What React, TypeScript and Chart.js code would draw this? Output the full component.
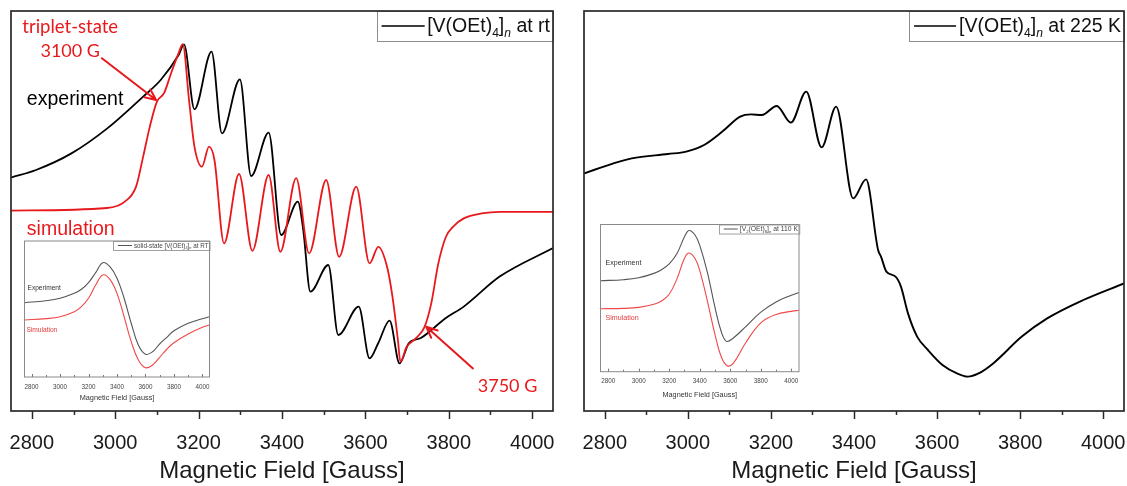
import React, { useEffect, useRef } from 'react';
import { Chart, registerables } from 'chart.js';

Chart.register(...registerables);

// ---------------- data ----------------
const fieldTicks = [2800, 3000, 3200, 3400, 3600, 3800, 4000];
const fieldMinorTicks = [2900, 3100, 3300, 3500, 3700, 3900];
const fieldMin = 2750;
const fieldMax = 4050;

// Left panel: [V(OEt)4]n at rt, experiment
const rtExpField = [2750, 2810, 2895, 2981, 3067, 3109, 3152, 3165, 3190, 3231, 3256, 3299, 3326, 3368, 3398, 3438, 3451, 3468, 3511, 3535, 3584, 3610, 3631, 3658, 3682, 3704, 3733, 3793, 3836, 3922, 4050];
const rtExpSignal = [16.7, 20.5, 28.8, 41.3, 57.2, 65.5, 78, 83.3, 50.8, 79.7, 38.8, 65.8, 17.5, 39.2, -12, 4.7, -9.5, -40.3, -27, -62, -47.8, -73.7, -66, -54.8, -76.2, -66.2, -63.5, -53.5, -47.8, -32.8, -18.5];

// Left panel: simulation (triplet state)
const rtSimField = [2750, 2980, 3023, 3050, 3067, 3083, 3100, 3117, 3134, 3152, 3162, 3177, 3190, 3208, 3225, 3238, 3261, 3297, 3329, 3368, 3396, 3434, 3465, 3506, 3537, 3578, 3610, 3631, 3652, 3665, 3678, 3684, 3699, 3721, 3742, 3758, 3775, 3793, 3810, 3836, 3879, 3922, 4050];
const rtSimSignal = [0.2, 1.5, 4.7, 12.2, 27.2, 42.2, 54.7, 58.9, 68.9, 78.9, 83.4, 55.5, 32.2, 22.2, 32.2, 25.5, -16.2, 18.5, -19.9, 18, -20.4, 16.4, -21.2, 15.5, -22.9, 12.2, -26.2, -17.9, -27.9, -42.9, -64.5, -75.4, -67.9, -63.7, -57.9, -46.2, -26.2, -13, -7.9, -3.7, -1.2, -0.4, -0.4];

// Right panel: [V(OEt)4]n at 225 K
const k225Field = [2750, 2821, 2865, 2952, 2996, 3039, 3083, 3126, 3152, 3178, 3214, 3248, 3285, 3322, 3357, 3398, 3429, 3458, 3465, 3478, 3500, 3513, 3530, 3552, 3578, 3613, 3648, 3674, 3700, 3735, 3804, 3865, 3952, 4050];
const k225Signal = [18.8, 23.8, 26.3, 28.5, 29.7, 33, 39.7, 47.2, 48.3, 48, 52.5, 44.2, 59.7, 31.8, 52.2, 6.3, 15.8, -19.5, -22.8, -30.3, -32.8, -37.8, -51.2, -62.8, -69.5, -77, -81.2, -82.8, -81.2, -76.2, -62.8, -53.7, -44.5, -36.2];

// Left inset: solid-state [V(OEt)4]n at RT
const insetRtExpField = [2750, 2900, 3000, 3100, 3150, 3200, 3250, 3300, 3350, 3400, 3450, 3500, 3550, 3600, 3650, 3700, 3750, 3800, 3900, 4000, 4050];
const insetRtExpSignal = [54.6, 56.1, 57.9, 61.5, 64.5, 69.4, 76.7, 84, 81.1, 72.6, 57.9, 39.5, 23.5, 16.7, 18.6, 24.3, 29.2, 34, 39.5, 42.9, 44.3];
const insetRtSimField = [2750, 2900, 3000, 3100, 3150, 3200, 3250, 3300, 3350, 3400, 3450, 3500, 3550, 3600, 3650, 3700, 3750, 3800, 3900, 4000, 4050];
const insetRtSimSignal = [41.9, 42.9, 44.3, 48, 51.7, 57.9, 67.6, 75, 71.8, 61.5, 44.3, 26, 12.5, 6.8, 8.8, 14.5, 20.4, 25.2, 31.6, 36.5, 38.2];

// Right inset: 110 K
const inset110ExpField = [2750, 2900, 3000, 3100, 3150, 3200, 3250, 3300, 3330, 3370, 3400, 3450, 3500, 3540, 3575, 3620, 3700, 3800, 3900, 4000, 4050];
const inset110ExpSignal = [61.8, 62.5, 63.8, 66.8, 69.3, 73.2, 80.1, 91.6, 95.9, 92.7, 85.8, 67.5, 43.5, 27.5, 20.6, 22.9, 30.5, 40.5, 47.4, 52, 53.8];
const inset110SimField = [2750, 2900, 3000, 3100, 3150, 3200, 3250, 3300, 3330, 3370, 3400, 3450, 3500, 3540, 3580, 3620, 3700, 3800, 3900, 4000, 4050];
const inset110SimSignal = [42.8, 43, 43.7, 45.8, 48, 52.6, 62.9, 77.1, 80.6, 76.7, 68.6, 48, 25.2, 10.3, 4.1, 5.8, 19.5, 33.2, 38.9, 41, 41.7];

// ---------------- styling helpers ----------------
const FONT = '"Liberation Sans", Arial, Helvetica, sans-serif';
const HUMANIST = 'Lato, "Liberation Sans", sans-serif';
const RED = '#e8191c';

type Part = { t: string; sub?: boolean; it?: boolean };

function partFont(p: Part, size: number, family: string) {
  const s = p.sub ? size * 0.62 : size;
  return `${p.it ? 'italic ' : ''}${s}px ${family}`;
}
function richWidth(ctx: CanvasRenderingContext2D, parts: Part[], size: number, family: string) {
  let w = 0;
  for (const p of parts) {
    ctx.font = partFont(p, size, family);
    w += ctx.measureText(p.t).width;
  }
  return w;
}
function drawRich(ctx: CanvasRenderingContext2D, parts: Part[], x: number, baseline: number, size: number, family: string, color: string) {
  ctx.save();
  ctx.fillStyle = color;
  ctx.textAlign = 'left';
  ctx.textBaseline = 'alphabetic';
  let cx = x;
  for (const p of parts) {
    ctx.font = partFont(p, size, family);
    ctx.fillText(p.t, cx, p.sub ? baseline + size * 0.22 : baseline);
    cx += ctx.measureText(p.t).width;
  }
  ctx.restore();
}

type Label = { text: string; x: number; y: number; color: string; size: number; family: string; align: CanvasTextAlign };
type Arrow = { x0: number; y0: number; x1: number; y1: number; color: string; width: number; head: number };
type Legend = { parts: Part[]; size: number; family: string; lineLen: number; h: number; gap: number; padL: number; padR: number; border: string; lineColor: string; lineWidth: number; textColor: string };
type Decor = {
  frameColor: string; frameWidth: number;
  majorLen: number; minorLen: number; inward: boolean; tickColor: string; tickWidth: number;
  legend: Legend; labels: Label[]; arrows: Arrow[]; background?: string;
};

function makeDecor(d: Decor) {
  return {
    id: 'decor',
    beforeDatasetsDraw(chart: any) {
      if (!d.background) return;
      const a = chart.chartArea;
      const ctx = chart.ctx;
      ctx.save();
      ctx.fillStyle = d.background;
      ctx.fillRect(a.left, a.top, a.right - a.left, a.bottom - a.top);
      ctx.restore();
    },
    afterDatasetsDraw(chart: any) {
      const ctx: CanvasRenderingContext2D = chart.ctx;
      const a = chart.chartArea;
      const xs = chart.scales.x;
      const ys = chart.scales.y;
      ctx.save();
      // ticks
      ctx.strokeStyle = d.tickColor;
      ctx.lineWidth = d.tickWidth;
      const drawTick = (v: number, len: number) => {
        const px = Math.round(xs.getPixelForValue(v)) + 0.5;
        ctx.beginPath();
        ctx.moveTo(px, a.bottom);
        ctx.lineTo(px, d.inward ? a.bottom - len : a.bottom + len);
        ctx.stroke();
      };
      fieldTicks.forEach((v) => drawTick(v, d.majorLen));
      fieldMinorTicks.forEach((v) => drawTick(v, d.minorLen));
      // labels
      for (const l of d.labels) {
        ctx.font = `${l.size}px ${l.family}`;
        ctx.fillStyle = l.color;
        ctx.textAlign = l.align;
        ctx.textBaseline = 'middle';
        ctx.fillText(l.text, xs.getPixelForValue(l.x), ys.getPixelForValue(l.y));
      }
      // arrows
      for (const ar of d.arrows) {
        const x0 = xs.getPixelForValue(ar.x0), y0 = ys.getPixelForValue(ar.y0);
        const x1 = xs.getPixelForValue(ar.x1), y1 = ys.getPixelForValue(ar.y1);
        ctx.strokeStyle = ar.color;
        ctx.lineWidth = ar.width;
        ctx.lineCap = 'round';
        ctx.beginPath();
        ctx.moveTo(x0, y0);
        ctx.lineTo(x1, y1);
        const ang = Math.atan2(y1 - y0, x1 - x0);
        for (const s of [-1, 1]) {
          ctx.moveTo(x1, y1);
          ctx.lineTo(x1 - ar.head * Math.cos(ang + s * 0.42), y1 - ar.head * Math.sin(ang + s * 0.42));
        }
        ctx.stroke();
      }
      // legend
      const lg = d.legend;
      const tw = richWidth(ctx, lg.parts, lg.size, lg.family);
      const bw = lg.padL + lg.lineLen + lg.gap + tw + lg.padR;
      const bx = a.right - bw;
      const by = a.top;
      ctx.fillStyle = '#ffffff';
      ctx.fillRect(bx, by, bw, lg.h);
      ctx.strokeStyle = lg.border;
      ctx.lineWidth = 1;
      ctx.strokeRect(Math.round(bx) + 0.5, by + 0.5, bw, lg.h);
      const my = by + lg.h / 2;
      ctx.strokeStyle = lg.lineColor;
      ctx.lineWidth = lg.lineWidth;
      ctx.beginPath();
      ctx.moveTo(bx + lg.padL, my);
      ctx.lineTo(bx + lg.padL + lg.lineLen, my);
      ctx.stroke();
      drawRich(ctx, lg.parts, bx + lg.padL + lg.lineLen + lg.gap, my + lg.size * 0.33, lg.size, lg.family, lg.textColor);
      // frame
      ctx.strokeStyle = d.frameColor;
      ctx.lineWidth = d.frameWidth;
      ctx.strokeRect(a.left, a.top, a.right - a.left, a.bottom - a.top);
      ctx.restore();
    },
  };
}

function pts(xs: number[], ys: number[]) {
  return xs.map((x, i) => ({ x, y: ys[i] }));
}
function lineDs(data: { x: number; y: number }[], color: string, width: number, smooth = false) {
  return smooth
    ? { data, borderColor: color, borderWidth: width, pointRadius: 0, fill: false, tension: 0.4 }
    : { data, borderColor: color, borderWidth: width, pointRadius: 0, fill: false, cubicInterpolationMode: 'monotone' as const };
}

type PanelOpts = {
  datasets: any[]; pad: { left: number; top: number; right: number }; axisH: number; yMin: number; yMax: number;
  tickSize: number; tickPad: number; tickColor: string; titleSize: number; titlePadBottom: number; titleColor: string; decor: Decor;
};

function panelConfig(o: PanelOpts): any {
  return {
    type: 'line',
    data: { datasets: o.datasets },
    options: {
      animation: false,
      responsive: false,
      maintainAspectRatio: false,
      events: [],
      layout: { padding: { left: o.pad.left, top: o.pad.top, right: o.pad.right, bottom: 0 } },
      plugins: { legend: { display: false }, tooltip: { enabled: false } },
      scales: {
        x: {
          type: 'linear',
          min: fieldMin,
          max: fieldMax,
          afterBuildTicks: (s: any) => { s.ticks = fieldTicks.map((v) => ({ value: v })); },
          afterFit: (s: any) => { s.height = o.axisH; s.paddingLeft = 0; s.paddingRight = 0; },
          grid: { display: false, drawTicks: false },
          border: { display: false },
          ticks: {
            color: o.tickColor,
            font: { family: FONT, size: o.tickSize },
            padding: o.tickPad,
            maxRotation: 0,
            autoSkip: false,
            callback: (v: any) => String(v),
          },
          title: {
            display: true,
            text: 'Magnetic Field [Gauss]',
            color: o.titleColor,
            font: { family: FONT, size: o.titleSize },
            padding: { top: 0, bottom: o.titlePadBottom },
          },
        },
        y: { display: false, min: o.yMin, max: o.yMax },
      },
    },
    plugins: [makeDecor(o.decor)],
  };
}

const mainLegendBase = { size: 19.5, family: FONT, lineLen: 42, h: 30, gap: 3, padL: 5, padR: 3, border: '#8c8c8c', lineColor: '#000', lineWidth: 1.6, textColor: '#111' };
const insetLegendBase = { size: 6.3, family: FONT, lineLen: 14, h: 9, gap: 2, padL: 5, padR: 1, border: '#a0a0a0', lineColor: '#555', lineWidth: 1, textColor: '#444' };

export default function App() {
  const leftRef = useRef<HTMLCanvasElement>(null);
  const rightRef = useRef<HTMLCanvasElement>(null);
  const inLRef = useRef<HTMLCanvasElement>(null);
  const inRRef = useRef<HTMLCanvasElement>(null);

  useEffect(() => {
    const charts: Chart[] = [];
    const mainCommon = {
      axisH: 75, yMin: -100, yMax: 100, tickSize: 20, tickPad: 20, tickColor: '#1a1a1a',
      titleSize: 24, titlePadBottom: 0, titleColor: '#1a1a1a',
    };
    const mainDecor = { frameColor: '#2a2a2a', frameWidth: 1.7, majorLen: 8, minorLen: 4, inward: false, tickColor: '#2a2a2a', tickWidth: 1.5 };

    charts.push(new Chart(leftRef.current!, panelConfig({
      ...mainCommon,
      datasets: [lineDs(pts(rtSimField, rtSimSignal), RED, 1.8), lineDs(pts(rtExpField, rtExpSignal), '#000', 1.8)],
      pad: { left: 11, top: 11, right: 15 },
      decor: {
        ...mainDecor,
        legend: { ...mainLegendBase, parts: [{ t: '[V(OEt)' }, { t: '4', sub: true }, { t: ']' }, { t: 'n', sub: true, it: true }, { t: ' at rt' }] },
        labels: [
          { text: 'triplet-state', x: 2892, y: 92.2, color: RED, size: 18.5, family: HUMANIST, align: 'center' },
          { text: '3100 G', x: 2892, y: 79.7, color: RED, size: 18, family: HUMANIST, align: 'center' },
          { text: 'experiment', x: 2788, y: 55.5, color: '#000', size: 19.5, family: FONT, align: 'left' },
          { text: 'simulation', x: 2788, y: -9.2, color: RED, size: 19.5, family: FONT, align: 'left' },
          { text: '3750 G', x: 3941, y: -87.5, color: RED, size: 18, family: HUMANIST, align: 'center' },
        ],
        arrows: [
          { x0: 2968, y0: 76.4, x1: 3098, y1: 55.5, color: RED, width: 2, head: 12 },
          { x0: 3858, y0: -78.7, x1: 3746, y1: -57.9, color: RED, width: 2, head: 12 },
        ],
      },
    })));

    charts.push(new Chart(rightRef.current!, panelConfig({
      ...mainCommon,
      datasets: [lineDs(pts(k225Field, k225Signal), '#000', 1.9)],
      pad: { left: 16, top: 11, right: 3 },
      decor: {
        ...mainDecor,
        legend: { ...mainLegendBase, parts: [{ t: '[V(OEt)' }, { t: '4', sub: true }, { t: ']' }, { t: 'n', sub: true, it: true }, { t: ' at 225 K' }] },
        labels: [],
        arrows: [],
      },
    })));

    const insetCommon = {
      yMin: 0, yMax: 100, tickSize: 6.3, tickPad: 6, tickColor: '#444',
      titleSize: 7.3, titlePadBottom: 2.5, titleColor: '#333',
    };
    const insetDecor = { frameColor: '#8a8a8a', frameWidth: 1, majorLen: 3, minorLen: 2, inward: true, tickColor: '#777', tickWidth: 1, background: '#ffffff' };

    charts.push(new Chart(inLRef.current!, panelConfig({
      ...insetCommon,
      axisH: 28,
      datasets: [lineDs(pts(insetRtSimField, insetRtSimSignal), '#f04848', 1.1, true), lineDs(pts(insetRtExpField, insetRtExpSignal), '#555', 1.1, true)],
      pad: { left: 10.5, top: 6, right: 4.5 },
      decor: {
        ...insetDecor,
        legend: { ...insetLegendBase, parts: [{ t: 'solid-state [V(OEt)' }, { t: '4', sub: true }, { t: ']' }, { t: 'n', sub: true, it: true }, { t: ' at RT' }] },
        labels: [
          { text: 'Experiment', x: 2771, y: 65.4, color: '#333', size: 6.6, family: FONT, align: 'left' },
          { text: 'Simulation', x: 2764, y: 34.6, color: '#e23a3a', size: 6.6, family: FONT, align: 'left' },
        ],
        arrows: [],
      },
    })));

    charts.push(new Chart(inRRef.current!, panelConfig({
      ...insetCommon,
      axisH: 30.3,
      datasets: [lineDs(pts(inset110SimField, inset110SimSignal), '#f04848', 1.1, true), lineDs(pts(inset110ExpField, inset110ExpSignal), '#555', 1.1, true)],
      pad: { left: 10.5, top: 6.5, right: 6 },
      decor: {
        ...insetDecor,
        legend: { ...insetLegendBase, size: 6.8, parts: [{ t: '[V' }, { t: '2', sub: true }, { t: '(OEt)' }, { t: '8', sub: true }, { t: ']' }, { t: 'n', sub: true, it: true }, { t: ' at 110 K' }] },
        labels: [
          { text: 'Experiment', x: 2783, y: 73.9, color: '#333', size: 7.1, family: FONT, align: 'left' },
          { text: 'Simulation', x: 2783, y: 36.2, color: '#e23a3a', size: 7.1, family: FONT, align: 'left' },
        ],
        arrows: [],
      },
    })));

    return () => charts.forEach((c) => c.destroy());
  }, []);

  const abs = (left: number, top: number, w: number, h: number): React.CSSProperties => ({ position: 'absolute', left, top, width: w, height: h, display: 'block' });

  return (
    <div style={{ position: 'fixed', left: 0, top: 0, width: 1127, height: 486, background: '#ffffff', overflow: 'hidden' }}>
      <canvas ref={leftRef} width={568} height={486} style={abs(0, 0, 568, 486)} />
      <canvas ref={rightRef} width={559} height={486} style={abs(568, 0, 559, 486)} />
      <canvas ref={inLRef} width={200} height={170} style={abs(14, 235, 200, 170)} />
      <canvas ref={inRRef} width={215} height={184} style={abs(590, 218, 215, 184)} />
    </div>
  );
}
